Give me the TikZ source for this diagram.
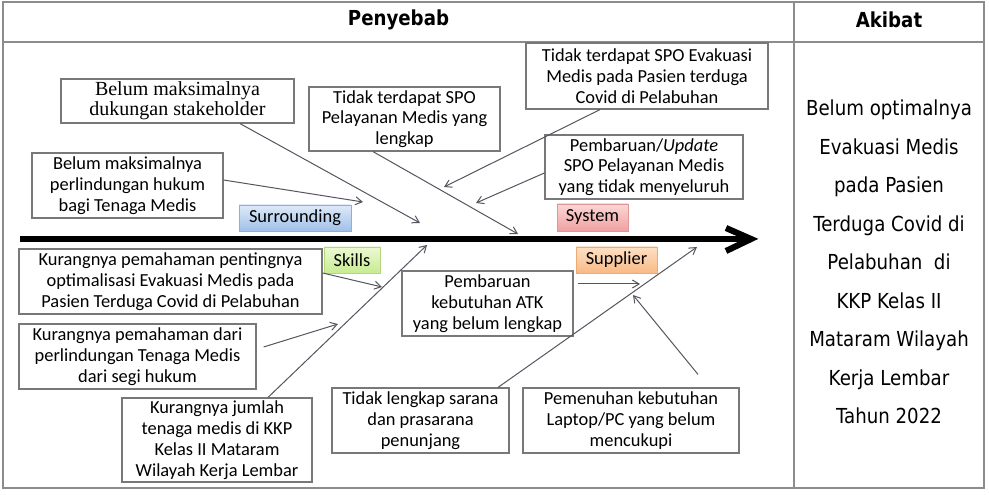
\documentclass[tikz,border=0pt]{standalone}
\usepackage{fontspec}
\setmainfont{Carlito}
\newfontfamily\tahoma[FakeStretch=0.88]{DejaVu Sans}
\newfontfamily\cambria{Liberation Serif}
\usetikzlibrary{arrows.meta}
\definecolor{tblgray}{RGB}{140,140,140}
\definecolor{boxgray}{RGB}{120,120,120}
\definecolor{conngray}{RGB}{85,85,95}
\begin{document}
\begin{tikzpicture}[x=0.75pt,y=-0.75pt,
  tbl/.style={draw=tblgray, line width=1.1pt},
  box/.style={draw=boxgray, line width=0.9pt, fill=white, inner sep=0pt, align=center,
    font=\fontsize{13.8}{15.6}\selectfont},
  serifbox/.style={box, font=\cambria\fontsize{15}{15}\selectfont},
  cat/.style={inner sep=0pt, font=\fontsize{13.8}{15}\selectfont, line width=0.6pt},
  conn/.style={draw=conngray, line width=0.75pt, -{Straight Barb[length=5pt,width=6pt]}},
  spine/.style={line width=4pt, draw=black},
  chev/.style={line width=4.6pt, draw=black, line join=miter},
]
\useasboundingbox (0,0) rectangle (989,495);

% table
\draw[tbl] (3,2) rectangle (984,488);
\draw[tbl, line width=1.5pt] (3,42) -- (984,42);
\draw[tbl] (794,2) -- (794,488);
\node[font=\tahoma\bfseries\fontsize{15.5}{18}\selectfont] (hcause) at (398.5,20) {Penyebab};
\node[font=\tahoma\bfseries\fontsize{15.5}{18}\selectfont] (heffect) at (889,20) {Akibat};
\node[font=\tahoma\fontsize{15.5}{28.9}\selectfont, align=center] (effect) at (889,262)
  {Belum optimalnya\\Evakuasi Medis\\pada Pasien\\Terduga Covid di\\Pelabuhan~ di\\KKP Kelas II\\Mataram Wilayah\\Kerja Lembar\\Tahun 2022};

% spine
\coordinate (sp0) at (20,239);
\coordinate (sp1) at (746,239);
\coordinate (chA) at (726,228);
\coordinate (chT) at (751,239);
\coordinate (chB) at (726,251);
\draw[spine] (sp0) -- (sp1);
\draw[chev] (chA) -- (chT) -- (chB);

% category labels
\node[cat, draw={rgb,255:red,140;green,175;blue,220}, top color={rgb,255:red,222;green,234;blue,248}, bottom color={rgb,255:red,160;green,192;blue,232},
  minimum width=112*0.75pt, minimum height=26*0.75pt] (surr) at (295,218) {Surrounding};
\node[cat, draw={rgb,255:red,225;green,150;blue,150}, top color={rgb,255:red,252;green,214;blue,214}, bottom color={rgb,255:red,240;green,160;blue,160},
  minimum width=71*0.75pt, minimum height=27*0.75pt] (sys) at (592.5,217.5) {System};
\node[cat, draw={rgb,255:red,180;green,215;blue,125}, top color={rgb,255:red,236;green,249;blue,212}, bottom color={rgb,255:red,200;green,235;blue,145},
  minimum width=56*0.75pt, minimum height=26*0.75pt] (skills) at (352,260) {Skills};
\node[cat, draw={rgb,255:red,238;green,170;blue,115}, top color={rgb,255:red,253;green,224;blue,198}, bottom color={rgb,255:red,248;green,186;blue,132},
  minimum width=81*0.75pt, minimum height=26*0.75pt] (supp) at (616.5,260) {Supplier};

% cause boxes
\node[serifbox, minimum width=233*0.75pt, minimum height=44*0.75pt] (b1) at (177.5,101)
  {Belum maksimalnya\\dukungan stakeholder};
\node[box, minimum width=191*0.75pt, minimum height=65*0.75pt] (b2) at (127.5,185.5)
  {Belum maksimalnya\\perlindungan hukum\\bagi Tenaga Medis};
\node[box, minimum width=191*0.75pt, minimum height=64*0.75pt] (b3) at (404.5,119)
  {Tidak terdapat SPO\\Pelayanan Medis yang\\lengkap};
\node[box, minimum width=242*0.75pt, minimum height=66*0.75pt] (b4) at (647,76)
  {Tidak terdapat SPO Evakuasi\\Medis pada Pasien terduga\\Covid di Pelabuhan};
\node[box, minimum width=198*0.75pt, minimum height=64*0.75pt] (b5) at (644,167)
  {Pembaruan/\textit{Update}\\SPO Pelayanan Medis\\yang tidak menyeluruh};
\node[box, minimum width=303*0.75pt, minimum height=65*0.75pt] (b6) at (170.5,281.5)
  {Kurangnya pemahaman pentingnya\\optimalisasi Evakuasi Medis pada\\Pasien Terduga Covid di Pelabuhan};
\node[box, minimum width=237*0.75pt, minimum height=65*0.75pt] (b7) at (137.5,356.5)
  {Kurangnya pemahaman dari\\perlindungan Tenaga Medis\\dari segi hukum};
\node[box, minimum width=190*0.75pt, minimum height=84*0.75pt] (b8) at (217,440)
  {Kurangnya jumlah\\tenaga medis di KKP\\Kelas II Mataram\\Wilayah Kerja Lembar};
\node[box, minimum width=171*0.75pt, minimum height=65*0.75pt] (b9) at (487.5,303.5)
  {Pembaruan\\kebutuhan ATK\\yang belum lengkap};
\node[box, minimum width=177*0.75pt, minimum height=65*0.75pt] (b10) at (420.5,420.5)
  {Tidak lengkap sarana\\dan prasarana\\penunjang};
\node[box, minimum width=216*0.75pt, minimum height=65*0.75pt] (b11) at (631,420.5)
  {Pemenuhan kebutuhan\\Laptop/PC yang belum\\mencukupi};

% arrow tips
\coordinate (ta) at (420,223);
\coordinate (tb) at (363,202);
\coordinate (tc) at (518,234);
\coordinate (td) at (444,187);
\coordinate (te) at (476,203);
\coordinate (tf) at (427,245);
\coordinate (tg) at (382,287);
\coordinate (th) at (338,324);
\coordinate (ti) at (697,247);
\coordinate (tj) at (640,284);
\coordinate (tk) at (633,295);

% connectors
\draw[conn] ([shift={(62.5,0)}]b1.south) -- (ta);
\draw[conn] ([shift={(0,-5.5)}]b2.east) -- (tb);
\draw[conn] ([shift={(-31.5,0)}]b3.south) -- (tc);
\draw[conn] ([shift={(-47,0)}]b4.south) -- (td);
\draw[conn] ([shift={(0,6)}]b5.west) -- (te);
\draw[conn] ([shift={(51,0)}]b8.north) -- (tf);
\draw[conn] ([shift={(0,-8.5)}]b6.east) -- (tg);
\draw[conn] ([shift={(7,-9.5)}]b7.east) -- (th);
\draw[conn] ([shift={(77.5,0)}]b10.north) -- (ti);
\draw[conn] ([shift={(4,-19.5)}]b9.east) -- (tj);
\draw[conn] ([shift={(67,-13)}]b11.north) -- (tk);
\end{tikzpicture}
\end{document}
